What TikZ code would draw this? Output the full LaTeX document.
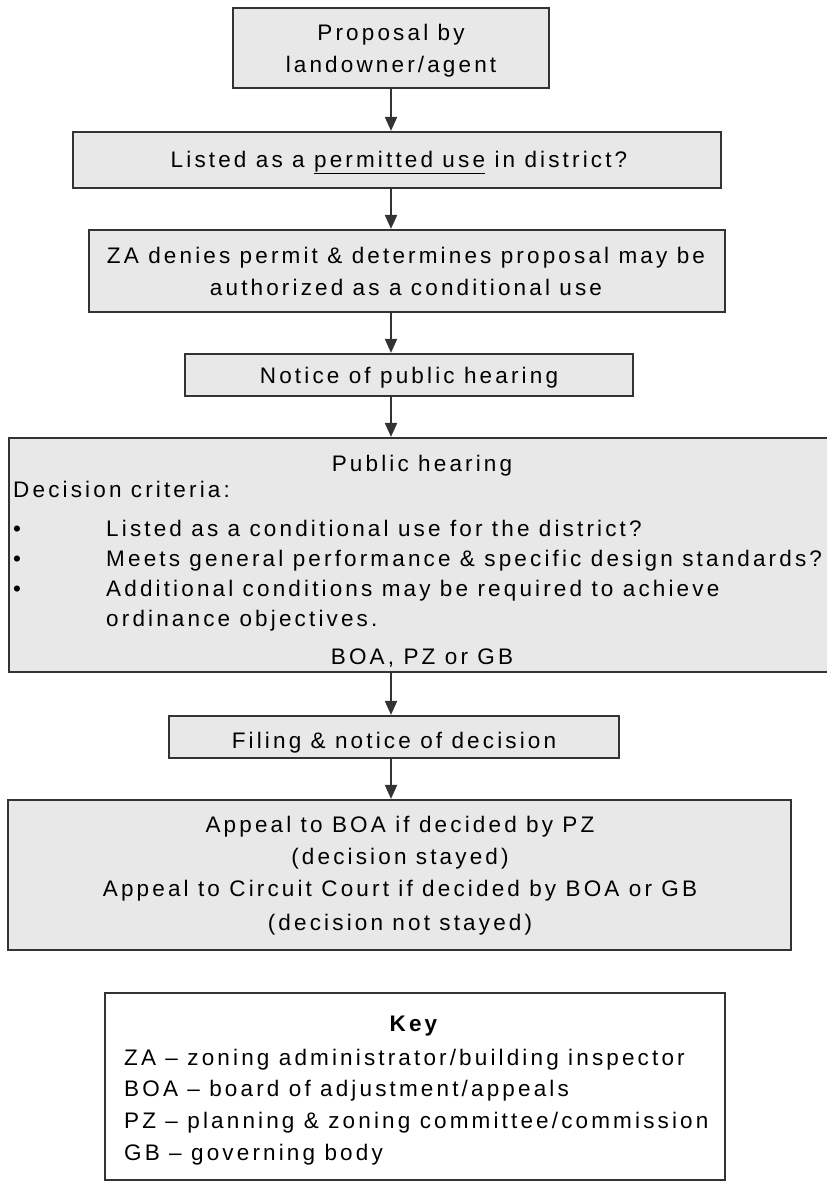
\documentclass[tikz,border=0pt]{standalone}
\usepackage{fontspec}
\setmainfont{Liberation Sans}[LetterSpace=14]
\usetikzlibrary{arrows.meta}
\definecolor{boxfill}{HTML}{E8E8E8}
\definecolor{edge}{HTML}{333333}
\begin{document}
\begin{tikzpicture}[x=1pt,y=-1pt,
  font=\fontsize{22.5pt}{32pt}\selectfont,
  box/.style={draw=edge, line width=2.2pt, fill=boxfill, inner sep=0pt},
  keybox/.style={draw=edge, line width=2.2pt, fill=white, inner sep=0pt},
  flow/.style={draw=edge, line width=2pt, -{Triangle[length=14pt,width=12pt]}},
  txt/.style={inner sep=0pt, anchor=base},
  ltxt/.style={inner sep=0pt, anchor=base west}]
\useasboundingbox (0,0) rectangle (827,1184);
\clip (0,0) rectangle (827,1184);

% process boxes
\node[box, minimum width=316pt, minimum height=80pt] (b1) at (391,48) {};
\node[box, minimum width=648pt, minimum height=56pt] (b2) at (397,160) {};
\node[box, minimum width=636pt, minimum height=82pt] (b3) at (407,271) {};
\node[box, minimum width=448pt, minimum height=42pt] (b4) at (409,375) {};
\node[box, minimum width=826pt, minimum height=234pt] (b5) at (422,555) {};
\node[box, minimum width=450pt, minimum height=42pt] (b6) at (394,737) {};
\node[box, minimum width=783pt, minimum height=150pt] (b7) at (399.5,875) {};
\node[keybox, minimum width=620pt, minimum height=187pt] (key) at (415,1086.5) {};

% connectors
\coordinate (ax) at (391,0);
\draw[flow] (b1.south -| ax) -- (b2.north -| ax);
\draw[flow] (b2.south -| ax) -- (b3.north -| ax);
\draw[flow] (b3.south -| ax) -- (b4.north -| ax);
\draw[flow] (b4.south -| ax) -- (b5.north -| ax);
\draw[flow] (b5.south -| ax) -- (b6.north -| ax);
\draw[flow] (b6.south -| ax) -- (b7.north -| ax);

% box texts
\node[txt] (t1a) at (391,40) {Proposal by};
\node[txt] (t1b) at (391,72) {landowner/agent};
\node[txt] (t2) at (399,167) {Listed as a \underline{permitted use} in district?};
\node[txt] (t3a) at (406,263) {ZA denies permit \& determines proposal may be};
\node[txt] (t3b) at (406,295) {authorized as a conditional use};
\node[txt] (t4) at (409,383) {Notice of public hearing};

\node[txt] (t5a) at (422,471) {Public hearing};
\node[ltxt] (t5b) at (13,497) {Decision criteria:};
\node[ltxt] (u1) at (13,536) {•};
\node[ltxt] (u2) at (13,566) {•};
\node[ltxt] (u3) at (13,596) {•};
\node[ltxt] (t5c) at (106,536) {Listed as a conditional use for the district?};
\node[ltxt] (t5d) at (106,566) {Meets general performance \& specific design standards?};
\node[ltxt] (t5e) at (106,596) {Additional conditions may be required to achieve};
\node[ltxt] (t5f) at (106,626) {ordinance objectives.};
\node[txt] (t5g) at (422,664) {BOA, PZ or GB};

\node[txt] (t6) at (394,748) {Filing \& notice of decision};

\node[txt] (t7a) at (400,832) {Appeal to BOA if decided by PZ};
\node[txt] (t7b) at (400,864) {(decision stayed)};
\node[txt] (t7c) at (400,896) {Appeal to Circuit Court if decided by BOA or GB};
\node[txt] (t7d) at (400,930) {(decision not stayed)};

% key
\node[txt] (k0) at (415,1031) {\textbf{Key}};
\node[ltxt] (k1) at (124,1065) {ZA – zoning administrator/building inspector};
\node[ltxt] (k2) at (124,1096) {BOA – board of adjustment/appeals};
\node[ltxt] (k3) at (124,1128) {PZ – planning \& zoning committee/commission};
\node[ltxt] (k4) at (124,1160) {GB – governing body};
\end{tikzpicture}
\end{document}
